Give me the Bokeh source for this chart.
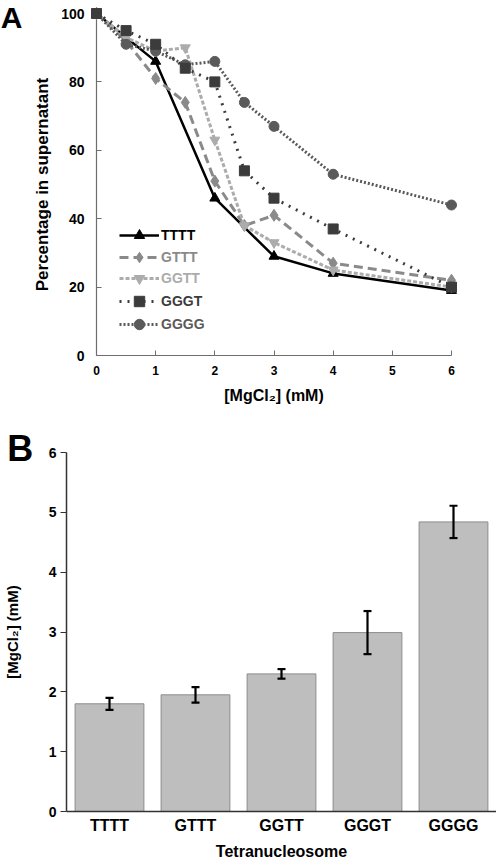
from bokeh.plotting import figure
from bokeh.models import (Range1d, FixedTicker, Legend, LegendItem,
                          ColumnDataSource, Whisker, TeeHead)
from bokeh.core.properties import value
from bokeh.embed import file_html
from bokeh.resources import INLINE

FONT = "Liberation Sans"

# ---------------- Panel A data ----------------
x_tttt = [0, 1, 2, 3, 4, 6]
y_tttt = [100, 86, 46, 29, 24, 19]
x_gttt = [0, 0.5, 1, 1.5, 2, 2.5, 3, 4, 6]
y_gttt = [100, 92, 81, 74, 51, 38, 41, 27, 22]
x_ggtt = [0, 0.5, 1, 1.5, 2, 2.5, 3, 4, 6]
y_ggtt = [100, 93, 89, 90, 63, 38, 33, 25, 20]
x_gggt = [0, 0.5, 1, 1.5, 2, 2.5, 3, 4, 6]
y_gggt = [100, 95, 91, 84, 80, 54, 46, 37, 20]
x_gggg = [0, 0.5, 1, 1.5, 2, 2.5, 3, 4, 6]
y_gggg = [100, 91, 89, 85, 86, 74, 67, 53, 44]

a_x_ticks = [0, 1, 2, 3, 4, 5, 6]
a_y_ticks = [0, 20, 40, 60, 80, 100]

# ---------------- Panel B data ----------------
constructs = ["TTTT", "GTTT", "GGTT", "GGGT", "GGGG"]
midpoint_mgcl2 = [1.80, 1.95, 2.30, 2.99, 4.84]
midpoint_err = [0.10, 0.13, 0.08, 0.36, 0.27]
b_y_ticks = [0, 1, 2, 3, 4, 5, 6]

# ---------------- Panel A ----------------
pa = figure(width=496, height=406, output_backend="svg", toolbar_location=None,
            x_range=Range1d(0, 6), y_range=Range1d(0, 100),
            min_border_left=96, min_border_right=45, min_border_top=13,
            min_border_bottom=51)
pa.outline_line_color = None
pa.grid.visible = False
pa.background_fill_color = None
pa.border_fill_color = None

for ax in (pa.xaxis[0], pa.yaxis[0]):
    ax.axis_line_color = "#6e6e6e"
    ax.axis_line_width = 1.2
    ax.major_tick_line_color = "#6e6e6e"
    ax.major_tick_in = 5
    ax.major_tick_out = 0
    ax.minor_tick_line_color = None
    ax.major_label_text_font = FONT
    ax.major_label_text_font_style = "bold"
    ax.major_label_text_color = "black"
    ax.axis_label_text_font = FONT
    ax.axis_label_text_font_style = "bold"
    ax.axis_label_text_color = "black"

pa.xaxis[0].ticker = FixedTicker(ticks=a_x_ticks)
pa.yaxis[0].ticker = FixedTicker(ticks=a_y_ticks)
pa.xaxis[0].major_label_text_font_size = "12px"
pa.yaxis[0].major_label_text_font_size = "14px"
pa.xaxis[0].major_label_standoff = 10
pa.yaxis[0].major_label_standoff = 12
pa.xaxis[0].axis_label = "[MgCl\u2082] (mM)"
pa.xaxis[0].axis_label_text_font_size = "16px"
pa.xaxis[0].axis_label_standoff = 9
pa.yaxis[0].axis_label = "Percentage in supernatant"
pa.yaxis[0].axis_label_text_font_size = "17px"
pa.yaxis[0].axis_label_standoff = 6

series = [
    ("TTTT", x_tttt, y_tttt, "#000000", None, "triangle", 2.5),
    ("GTTT", x_gttt, y_gttt, "#8a8a8a", "9 5", "diamond", 3),
    ("GGTT", x_ggtt, y_ggtt, "#acacac", "4 2", "inverted_triangle", 3),
    ("GGGG", x_gggg, y_gggg, "#5a5a5a", "2 2", "circle", 3),
    ("GGGT", x_gggt, y_gggt, "#3c3c3c", "2 6", "square", 3),
]
items = {}
for name, xs, ys, col, dash, marker, lw in series:
    kw = {}
    if dash:
        kw["line_dash"] = dash
    r1 = pa.line(xs, ys, line_color=col, line_width=lw, level="overlay", **kw)
    msize = 12 if marker == "diamond" else 10
    r2 = pa.scatter(xs, ys, marker=marker, size=msize, fill_color=col,
                    line_color=col, level="overlay")
    items[name] = (col, [r1, r2])

leg_bottom = {"TTTT": 107, "GTTT": 85, "GGTT": 64, "GGGT": 41, "GGGG": 18}
for name in ["TTTT", "GTTT", "GGTT", "GGGT", "GGGG"]:
    col, rs = items[name]
    lg = Legend(items=[LegendItem(label=name, renderers=rs)],
                location=(23, leg_bottom[name]),
                glyph_width=40, glyph_height=26, label_standoff=2,
                padding=0, margin=0, spacing=0,
                border_line_color=None, background_fill_alpha=0,
                label_text_font=FONT, label_text_font_style="bold",
                label_text_font_size="14px", label_text_color=col,
                label_height=26)
    pa.add_layout(lg, "center")

# panel letter "A" (placed just outside the frame, top-left corner of the page)
pa.text(x=[-1.62], y=[98.7], text=["A"], text_font=value(FONT),
        text_font_style="bold", text_font_size="30px",
        text_baseline="alphabetic", text_align="left", text_color="black",
        level="overlay")

# ---------------- Panel B ----------------
pb = figure(width=496, height=456, output_backend="svg", toolbar_location=None,
            x_range=constructs, y_range=Range1d(0, 6),
            min_border_left=60, min_border_right=0, min_border_top=46,
            min_border_bottom=49)
pb.outline_line_color = None
pb.grid.visible = False
pb.background_fill_color = None
pb.border_fill_color = None
pb.x_range.range_padding = 0

src = ColumnDataSource(dict(x=constructs, top=midpoint_mgcl2,
                            upper=[v + e for v, e in zip(midpoint_mgcl2, midpoint_err)],
                            lower=[v - e for v, e in zip(midpoint_mgcl2, midpoint_err)]))
pb.vbar(x="x", top="top", width=0.8, source=src, fill_color="#bebebe",
        line_color="#8c8c8c", line_width=1)
pb.add_layout(Whisker(source=src, base="x", upper="upper", lower="lower",
                      line_color="black", line_width=2.2, level="overlay",
                      upper_head=TeeHead(size=8, line_width=2.2, line_color="black"),
                      lower_head=TeeHead(size=8, line_width=2.2, line_color="black")))

for ax in (pb.xaxis[0], pb.yaxis[0]):
    ax.axis_line_color = "#333333"
    ax.axis_line_width = 1.5
    ax.major_tick_line_color = "#333333"
    ax.major_tick_line_width = 1.2
    ax.minor_tick_line_color = None
    ax.major_label_text_font = FONT
    ax.major_label_text_font_style = "bold"
    ax.major_label_text_color = "black"
    ax.axis_label_text_font = FONT
    ax.axis_label_text_font_style = "bold"
    ax.axis_label_text_color = "black"

pb.yaxis[0].ticker = FixedTicker(ticks=b_y_ticks)
pb.yaxis[0].major_tick_in = 0
pb.yaxis[0].major_tick_out = 6
pb.yaxis[0].major_label_standoff = 4
pb.yaxis[0].major_label_text_font_size = "14px"
pb.yaxis[0].axis_label = "[MgCl\u2082] (mM)"
pb.yaxis[0].axis_label_text_font_size = "15px"
pb.yaxis[0].axis_label_standoff = 25
pb.xaxis[0].major_tick_in = 0
pb.xaxis[0].major_tick_out = 0
pb.xaxis[0].major_label_standoff = 5
pb.xaxis[0].major_label_text_font_size = "16px"
pb.xaxis[0].axis_label = "Tetranucleosome"
pb.xaxis[0].axis_label_text_font_size = "16px"
pb.xaxis[0].axis_label_standoff = 6

# panel letter "B" (categorical coordinate with an offset, left of first bar)
pb.text(x=[(constructs[0], -1.188)], y=[6.06], text=["B"], text_font=value(FONT),
        text_font_style="bold", text_font_size="36px",
        text_baseline="alphabetic", text_align="left", text_color="black",
        level="overlay")

open("out.html", "w").write(file_html([pa, pb], INLINE))
